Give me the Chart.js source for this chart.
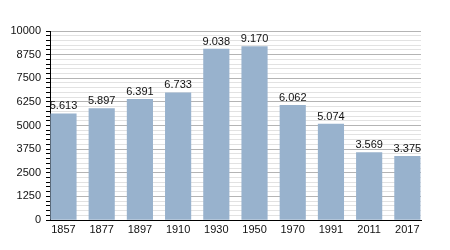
<!DOCTYPE html>
<html>
<head>
<meta charset="utf-8">
<script src="https://cdn.jsdelivr.net/npm/chart.js@4/dist/chart.umd.min.js"></script>
<style>
  html, body { margin: 0; padding: 0; background: #fff; }
  #wrap { width: 450px; height: 250px; }
</style>
</head>
<body>
<div id="wrap"><canvas id="chart"></canvas></div>
<script>
// Population by census year.
const years = ["1857", "1877", "1897", "1910", "1930", "1950", "1970", "1991", "2011", "2017"];
const population = [5613, 5897, 6391, 6733, 9038, 9170, 6062, 5074, 3569, 3375];
const yMax = 10000;
const yMajorStep = 1250;   // labelled ticks
const yMinorStep = 250;    // light grid lines

const BAR_COLOR = "#98b2cd";

// "5613" -> "5.613"
function formatThousands(n) {
  return String(n).replace(/\B(?=(\d{3})+(?!\d))/g, ".");
}

// Draws the value above each bar.
const valueLabels = {
  id: "valueLabels",
  afterDatasetsDraw(chart) {
    const ctx = chart.ctx;
    const meta = chart.getDatasetMeta(0);
    ctx.save();
    ctx.font = "11px 'Liberation Sans', Arial, sans-serif";
    ctx.fillStyle = "#111";
    ctx.textAlign = "center";
    ctx.textBaseline = "bottom";
    meta.data.forEach((bar, i) => {
      ctx.fillText(formatThousands(population[i]), bar.x, bar.y - 2);
    });
    ctx.restore();
  },
};

new Chart(document.getElementById("chart"), {
  type: "bar",
  data: {
    datasets: [{
      data: population.map((v, i) => ({ x: i, y: v })),
      backgroundColor: BAR_COLOR,
      barThickness: 25.5,
    }],
  },
  options: {
    responsive: true,
    maintainAspectRatio: false,
    animation: false,
    layout: { padding: { top: 31, right: 29, bottom: 0, left: 0 } },
    plugins: { legend: { display: false }, tooltip: { enabled: false } },
    scales: {
      // linear x so the first bar sits right against the y axis
      x: {
        type: "linear",
        offset: false,
        min: -0.353,
        max: 9.357,
        afterBuildTicks: (s) => { s.ticks = years.map((_, i) => ({ value: i })); },
        afterFit: (s) => { s.height = 30; },
        grid: { display: false, drawTicks: false },
        border: { display: true, color: "#000", width: 1 },
        ticks: {
          autoSkip: false,
          maxRotation: 0,
          padding: 3,
          color: "#111",
          font: { family: "'Liberation Sans', Arial, sans-serif", size: 11 },
          callback: (v) => years[v],
        },
      },
      y: {
        min: 0,
        max: yMax,
        afterFit: (s) => { s.width = 50; },
        border: { display: true, color: "#000", width: 1 },
        grid: {
          color: (c) => (c.tick && c.tick.value % yMajorStep === 0 ? "#b4b4b4" : "#e2e2e2"),
          tickColor: "#000",
          tickLength: 4,
        },
        ticks: {
          stepSize: yMinorStep,
          autoSkip: false,
          padding: 5,
          color: "#111",
          font: { family: "'Liberation Sans', Arial, sans-serif", size: 11 },
          callback: (v) => (v % yMajorStep === 0 ? String(v) : ""),
        },
      },
    },
  },
  plugins: [valueLabels],
});
</script>
</body>
</html>
